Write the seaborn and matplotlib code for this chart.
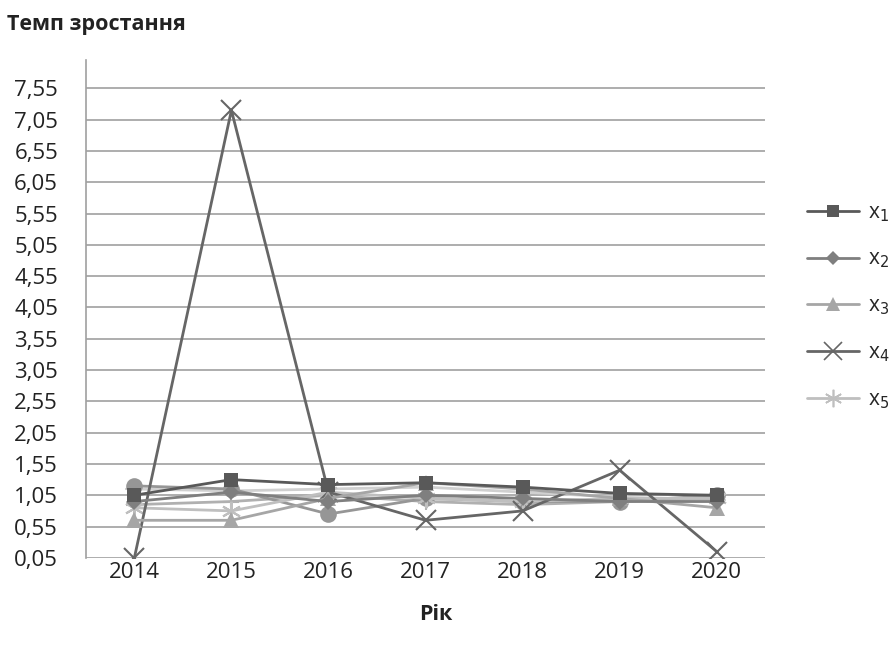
import matplotlib
matplotlib.use("Agg")
import matplotlib.pyplot as plt
import seaborn as sns
import pandas as pd
import numpy as np
from matplotlib.lines import Line2D

years = ["2014", "2015", "2016", "2017", "2018", "2019", "2020"]
x1 = [1.05, 1.30, 1.22, 1.25, 1.18, 1.08, 1.05]
x2 = [0.95, 1.10, 0.95, 1.05, 1.00, 0.95, 0.95]
x3 = [0.65, 0.65, 1.00, 1.25, 1.15, 1.00, 0.85]
x4 = [0.05, 7.20, 1.10, 0.65, 0.80, 1.45, 0.15]
x5 = [0.85, 0.80, 1.10, 1.00, 0.95, 1.00, 1.00]
x6 = [1.20, 1.15, 0.75, 1.00, 0.95, 0.95, 1.05]
x7 = [0.90, 0.95, 1.05, 0.95, 0.90, 0.95, 1.00]
x8 = [1.15, 1.12, 1.15, 1.18, 1.10, 1.02, 0.98]
yticks = [0.05 + 0.5 * i for i in range(16)]

sns.set_theme(style="white")
plt.rcParams["font.family"] = ["Open Sans", "DejaVu Sans"]

fig = plt.figure(figsize=(8.94, 6.54), dpi=100)
ax = fig.add_axes([0.096, 0.147, 0.76, 0.761])

series = [
    ("x$_1$", x1, "#595959", "s", 10, True),
    ("x$_2$", x2, "#7f7f7f", "D", 8, True),
    ("x$_3$", x3, "#a6a6a6", "^", 11, True),
    ("x$_4$", x4, "#666666", "x", 14, True),
    ("x$_5$", x5, "#bfbfbf", (6, 2, 0), 14, True),
    ("x$_6$", x6, "#969696", "o", 12, False),
    ("x$_7$", x7, "#b0b0b0", "+", 12, False),
    ("x$_8$", x8, "#d0d0d0", "_", 13, False),
]

df_rows = []
for name, vals, *_ in series:
    for yr, v in zip(years, vals):
        df_rows.append({"year": yr, "value": v, "series": name})
df = pd.DataFrame(df_rows)

for name, vals, color, marker, ms, inleg in series[::-1]:
    sub = df[df["series"] == name]
    sns.lineplot(data=sub, x="year", y="value", ax=ax, color=color, marker=marker,
                 markersize=ms, linewidth=2, markeredgecolor=color,
                 markeredgewidth=1.5 if marker in ("x", "+", "_", (6, 2, 0)) else 0,
                 legend=False, sort=False)

leg_handles = [Line2D([0], [0], color=c, marker=m, markersize=ms * 0.9, linewidth=2,
                      markeredgecolor=c, markeredgewidth=1.2 if m in ("x", (6, 2, 0)) else 0)
               for n, v, c, m, ms, il in series if il]
leg_labels = [n for n, v, c, m, ms, il in series if il]
fig.legend(leg_handles, leg_labels, loc="upper left", bbox_to_anchor=(0.903, 0.691),
           frameon=False, fontsize=15, labelspacing=1.21, handlelength=2.5,
           handletextpad=0.4, borderpad=0, borderaxespad=0)

ax.set_xlim(-0.5, 6.5)
ax.set_ylim(0.05, 8.0)
ax.set_yticks(yticks)
ax.set_yticklabels([f"{t:.2f}".replace(".", ",") for t in yticks])
ax.tick_params(axis="both", labelsize=16, colors="#222222", length=0)
ax.tick_params(axis="y", pad=20)
ax.tick_params(axis="x", pad=3)
ax.yaxis.grid(True, color="#a0a0a0", linewidth=1.2)
ax.xaxis.grid(False)
for s in ["top", "right", "bottom"]:
    ax.spines[s].set_visible(False)
ax.spines["left"].set_color("#a0a0a0")
ax.spines["left"].set_linewidth(1.2)
ax.set_xlabel("")
ax.set_ylabel("")

fig.text(0.008, 0.962, "Темп зростання", fontsize=15.5, fontweight="bold",
         ha="left", va="center", color="#222222")
fig.text(0.488, 0.06, "Рік", fontsize=15.5, fontweight="bold",
         ha="center", va="center", color="#222222")

fig.savefig("out.png", dpi=100)
